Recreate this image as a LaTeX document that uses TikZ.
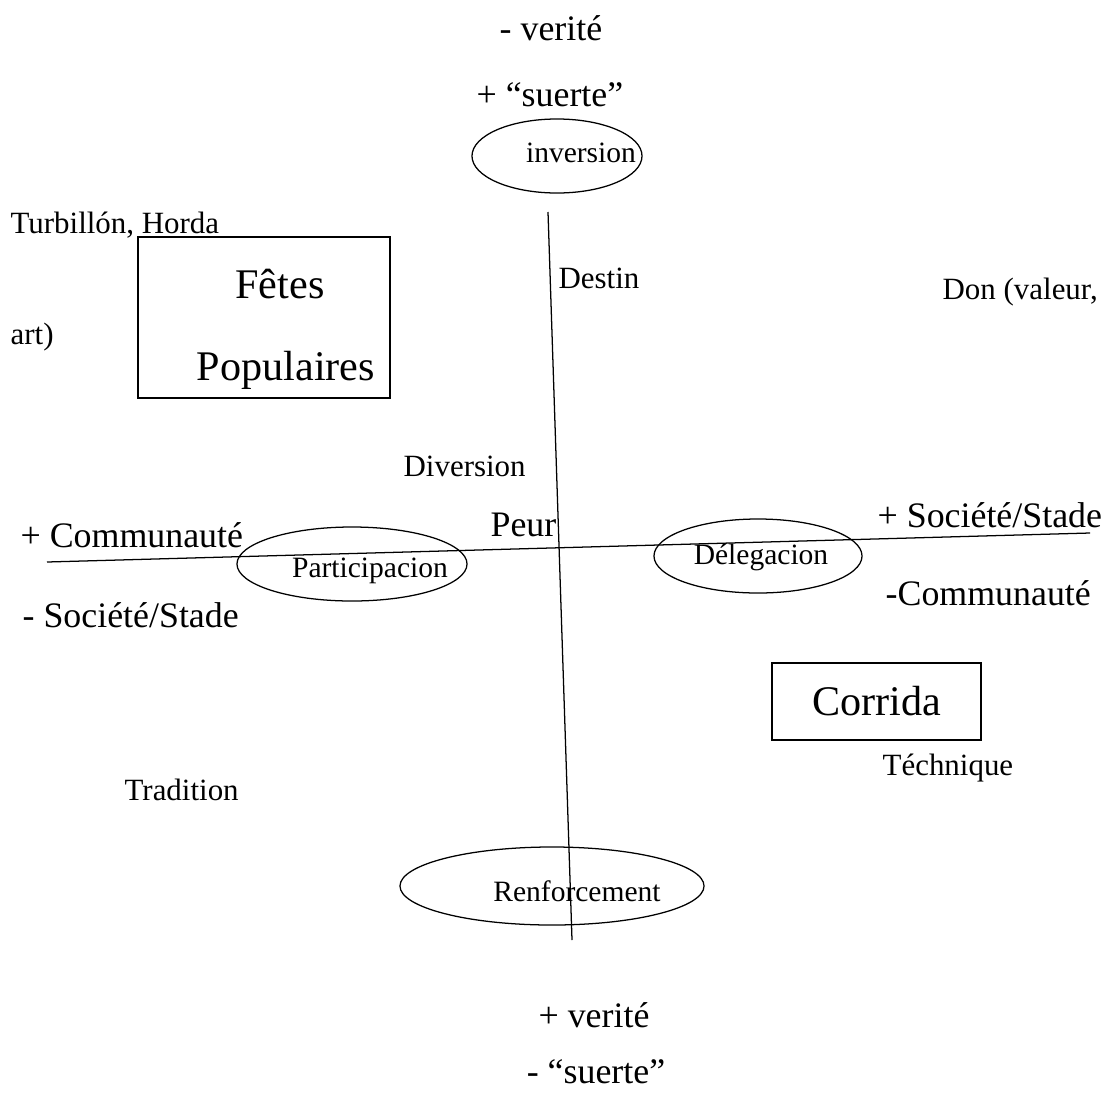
\documentclass[tikz,border=0pt]{standalone}
\usepackage{fontspec}
\setmainfont{LiberationSerif}[Extension=.ttf,UprightFont=*-Regular,BoldFont=*-Bold]
\usetikzlibrary{shapes.geometric}
\newcommand{\smalltxt}{\fontsize{22}{26}\selectfont}
\newcommand{\medtxt}{\fontsize{25.5}{30}\selectfont}
\newcommand{\bigtxt}{\fontsize{30}{36}\selectfont}
\newcommand{\elltxt}{\fontsize{21}{25}\selectfont}
\begin{document}
\begin{tikzpicture}[x=0.025cm,y=-0.025cm,line width=0.9pt]
\tikzstyle{every node}+=[inner sep=0pt]
\tikzstyle{oval}=[draw,ellipse]
\tikzstyle{frame}=[draw,rectangle]
\useasboundingbox (0,0) rectangle (1111,1093);
% axes
\coordinate (vtop) at (548,212);
\coordinate (vbot) at (572,940);
\coordinate (hleft) at (47,562);
\coordinate (hright) at (1090,533);
\draw (vtop) -- (vbot);
\draw (hleft) -- (hright);
% ellipses
\node [oval,minimum width=4.25cm,minimum height=1.85cm] (inversion) at (557,156) {};
\node (inversiontxt) at (581,153) {\elltxt inversion};
\node [oval,minimum width=5.75cm,minimum height=1.85cm] (particip) at (352,564) {};
\node (participtxt) at (370,571) {\elltxt Participacion};
\node [oval,minimum width=5.2cm,minimum height=1.85cm] (delegac) at (758,556) {};
\node (delegactxt) at (761,557) {\elltxt Délegacion};
\node [oval,minimum width=7.6cm,minimum height=1.95cm] (renforc) at (552,886) {};
\node (renforctxt) at (577,891) {\elltxt Renforcement};
% boxes
\node [frame,minimum width=6.3cm,minimum height=4.025cm] (fetes) at (264,317.5) {};
\node (fetestxt) at (280,284) {\bigtxt Fêtes};
\node (populairestxt) at (286,370) {\bigtxt Populaires};
\node [frame,minimum width=5.225cm,minimum height=1.925cm] (corrida) at (876.5,701.5) {};
\node (corridatxt) at (877,701) {\bigtxt Corrida};
% vertical axis labels
\node (mverite) at (551,28) {\medtxt - verité};
\node [anchor=west] (psuerte) at (476,95) {\medtxt + “suerte”};
\node (pverite) at (594,1015) {\medtxt + verité};
\node (msuerte) at (596,1072) {\medtxt - “suerte”};
% horizontal axis labels
\node [anchor=west] (pcomm) at (20,535) {\medtxt + Communauté};
\node [anchor=west] (msoc) at (22,615) {\medtxt - Société/Stade};
\node [anchor=west] (psoc) at (877,515) {\medtxt + Société/Stade};
\node [anchor=west] (mcomm) at (885,593) {\medtxt -Communauté};
% other labels
\node [anchor=west] (turbillon) at (10,225) {\smalltxt Turbillón, Horda};
\node [anchor=west] (art) at (10,337) {\smalltxt art)};
\node [anchor=west] (destin) at (558,278) {\smalltxt Destin};
\node [anchor=west] (don) at (942,292) {\smalltxt Don (valeur,};
\node [anchor=west] (diversion) at (403,466) {\smalltxt Diversion};
\node [anchor=west] (peur) at (490,525) {\medtxt Peur};
\node [anchor=west] (tradition) at (124,790) {\smalltxt Tradition};
\node [anchor=west] (technique) at (882,768) {\smalltxt Téchnique};
\end{tikzpicture}
\end{document}
